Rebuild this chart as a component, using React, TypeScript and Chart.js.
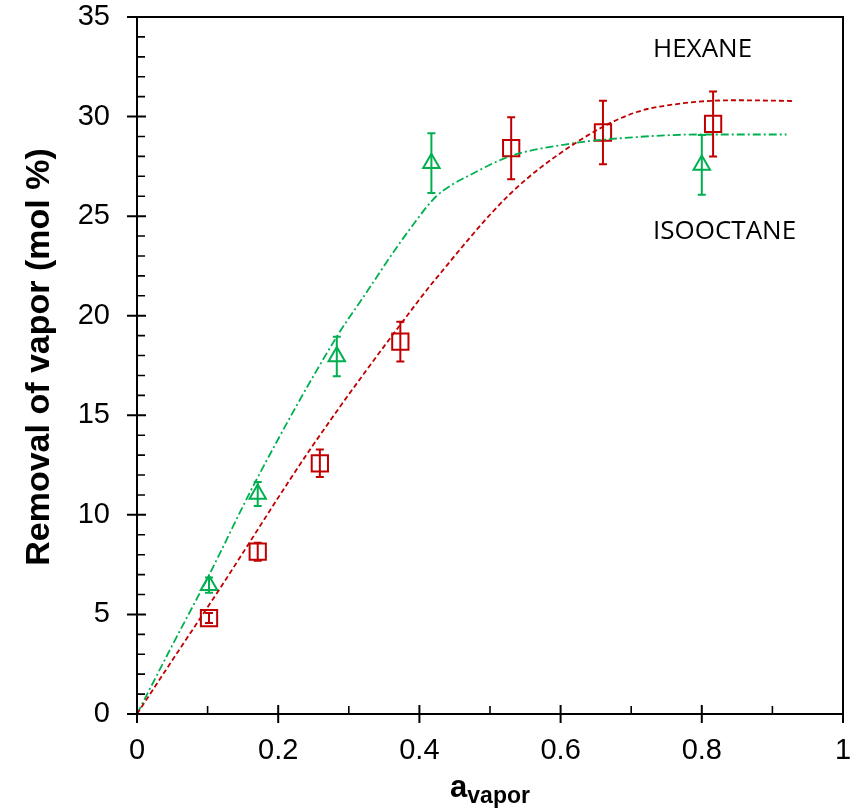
import React, { useEffect, useRef } from 'react';
import { Chart, registerables } from 'chart.js';

Chart.register(...registerables);

// Measured data (hexane = red squares, isooctane = green triangles)
const hexaneX = [0.102, 0.171, 0.259, 0.373, 0.53, 0.66, 0.816];
const hexaneY = [4.82, 8.15, 12.59, 18.7, 28.41, 29.2, 29.63];
const hexaneErr = [0.25, 0.45, 0.69, 1.0, 1.56, 1.6, 1.63];

const isoX = [0.102, 0.171, 0.283, 0.417, 0.8];
const isoY = [6.47, 11.05, 17.95, 27.66, 27.57];
const isoErr = [0.38, 0.6, 0.99, 1.5, 1.5];

// Model curves
const hexaneFitX = [0, 0.05, 0.113, 0.248, 0.396, 0.422, 0.528, 0.618, 0.703, 0.774, 0.85, 0.932];
const hexaneFitY = [0, 2.7, 6.06, 13.43, 20.63, 21.8, 26.1, 28.6, 30.17, 30.67, 30.82, 30.78];

const isoFitX = [0, 0.05, 0.101, 0.169, 0.283, 0.318, 0.372, 0.396, 0.41, 0.424, 0.445, 0.467, 0.528, 0.618, 0.703, 0.797, 0.92];
const isoFitY = [0, 3.45, 6.9, 11.75, 18.95, 20.8, 23.64, 24.8, 25.45, 26.0, 26.55, 26.98, 28.0, 28.66, 28.96, 29.1, 29.1];

const xMajorTicks = [0, 0.2, 0.4, 0.6, 0.8, 1];
const xMinorTicks = [0.1, 0.3, 0.5, 0.7, 0.9];
const yMajorTicks = [0, 5, 10, 15, 20, 25, 30, 35];
const yMinorTicks = [1, 2, 3, 4, 6, 7, 8, 9, 11, 12, 13, 14, 16, 17, 18, 19, 21, 22, 23, 24, 26, 27, 28, 29, 31, 32, 33, 34];

const RED = '#C00000';
const GREEN = '#00B050';
const ARIAL = '"Liberation Sans", Arial, sans-serif';
const LABEL_FONT = '"Open Sans", "Noto Sans", sans-serif';

const zip = (xs: number[], ys: number[]) => xs.map((x, i) => ({ x, y: ys[i] }));

const zeroPad = (s: any) => {
  s.paddingTop = 0;
  s.paddingBottom = 0;
  s.paddingLeft = 0;
  s.paddingRight = 0;
};

const decorPlugin = {
  id: 'decor',
  afterDatasetsDraw(chart: any) {
    const ctx = chart.ctx;
    const xs = chart.scales.x;
    const ys = chart.scales.y;
    const drawErr = (xv: number[], yv: number[], ev: number[], color: string) => {
      ctx.save();
      ctx.strokeStyle = color;
      ctx.lineWidth = 2;
      xv.forEach((x, i) => {
        const px = xs.getPixelForValue(x);
        const top = ys.getPixelForValue(yv[i] + ev[i]);
        const bot = ys.getPixelForValue(yv[i] - ev[i]);
        ctx.beginPath();
        ctx.moveTo(px, top);
        ctx.lineTo(px, bot);
        ctx.moveTo(px - 4, top);
        ctx.lineTo(px + 4, top);
        ctx.moveTo(px - 4, bot);
        ctx.lineTo(px + 4, bot);
        ctx.stroke();
      });
      ctx.restore();
    };
    drawErr(isoX, isoY, isoErr, GREEN);
    drawErr(hexaneX, hexaneY, hexaneErr, RED);
  },
  afterDraw(chart: any) {
    const ctx = chart.ctx;
    const { left, right, top, bottom } = chart.chartArea;
    const xs = chart.scales.x;
    const ys = chart.scales.y;
    ctx.save();
    ctx.strokeStyle = '#000';
    ctx.lineWidth = 2;
    ctx.strokeRect(left, top, right - left, bottom - top);
    ctx.beginPath();
    xMajorTicks.forEach((v) => {
      const p = xs.getPixelForValue(v);
      ctx.moveTo(p, bottom - 9);
      ctx.lineTo(p, bottom + 9);
    });
    yMajorTicks.forEach((v) => {
      const p = ys.getPixelForValue(v);
      ctx.moveTo(left - 10, p);
      ctx.lineTo(left + 9, p);
    });
    ctx.stroke();
    ctx.lineWidth = 1.6;
    ctx.beginPath();
    xMinorTicks.forEach((v) => {
      const p = xs.getPixelForValue(v);
      ctx.moveTo(p, bottom - 8);
      ctx.lineTo(p, bottom);
    });
    yMinorTicks.forEach((v) => {
      const p = ys.getPixelForValue(v);
      ctx.moveTo(left, p);
      ctx.lineTo(left + 8, p);
    });
    ctx.stroke();

    // Y axis title
    ctx.fillStyle = '#000';
    ctx.save();
    ctx.translate(49, 357);
    ctx.rotate(-Math.PI / 2);
    ctx.font = `bold 34px ${ARIAL}`;
    ctx.textAlign = 'center';
    ctx.textBaseline = 'alphabetic';
    ctx.fillText('Removal of vapor (mol %)', 0, 0);
    ctx.restore();

    // X axis title with subscript
    ctx.textAlign = 'left';
    ctx.textBaseline = 'alphabetic';
    ctx.font = `bold 31px ${ARIAL}`;
    const aW = ctx.measureText('a').width;
    ctx.font = `bold 23px ${ARIAL}`;
    const subW = ctx.measureText('vapor').width;
    const cx = (left + right) / 2;
    const startX = cx - (aW + subW) / 2;
    ctx.font = `bold 31px ${ARIAL}`;
    ctx.fillText('a', startX, 797);
    ctx.font = `bold 23px ${ARIAL}`;
    ctx.fillText('vapor', startX + aW, 803);

    // Curve labels
    ctx.font = `26px ${LABEL_FONT}`;
    ctx.fillText('HEXANE', 653, 57);
    ctx.fillText('ISOOCTANE', 653, 239);
    ctx.restore();
  },
};

export default function App() {
  const canvasRef = useRef<HTMLCanvasElement | null>(null);

  useEffect(() => {
    if (!canvasRef.current) return;
    const chart = new Chart(canvasRef.current, {
      type: 'scatter',
      data: {
        datasets: [
          {
            type: 'line',
            label: 'Hexane fit',
            data: zip(hexaneFitX, hexaneFitY),
            borderColor: RED,
            borderWidth: 1.8,
            borderDash: [5, 3],
            pointRadius: 0,
            fill: false,
            cubicInterpolationMode: 'monotone',
          },
          {
            type: 'line',
            label: 'Isooctane fit',
            data: zip(isoFitX, isoFitY),
            borderColor: GREEN,
            borderWidth: 1.8,
            borderDash: [8, 3, 2, 3],
            pointRadius: 0,
            fill: false,
            cubicInterpolationMode: 'monotone',
          },
          {
            label: 'Hexane',
            data: zip(hexaneX, hexaneY),
            pointStyle: 'rect',
            pointRadius: 11.5,
            borderColor: RED,
            backgroundColor: 'rgba(0,0,0,0)',
            pointBorderWidth: 2,
            showLine: false,
          },
          {
            label: 'Isooctane',
            data: zip(isoX, isoY),
            pointStyle: 'triangle',
            pointRadius: 9.5,
            borderColor: GREEN,
            backgroundColor: 'rgba(0,0,0,0)',
            pointBorderWidth: 2,
            showLine: false,
          },
        ],
      },
      options: {
        responsive: false,
        animation: false,
        devicePixelRatio: 1,
        layout: { padding: { top: 17, right: 15, left: 0, bottom: 0 } },
        plugins: {
          legend: { display: false },
          tooltip: { enabled: false },
        },
        scales: {
          x: {
            type: 'linear',
            min: 0,
            max: 1,
            afterFit: (s: any) => {
              s.height = 97;
              zeroPad(s);
            },
            grid: { display: false, drawTicks: false },
            border: { display: false },
            ticks: {
              stepSize: 0.2,
              padding: 20,
              color: '#000',
              maxRotation: 0,
              font: { family: ARIAL, size: 29 },
              callback: (v: any) => String(Math.round(Number(v) * 10) / 10),
            },
          },
          y: {
            type: 'linear',
            min: 0,
            max: 35,
            afterFit: (s: any) => {
              s.width = 137;
              zeroPad(s);
            },
            grid: { display: false, drawTicks: false },
            border: { display: false },
            ticks: {
              stepSize: 5,
              padding: 27,
              color: '#000',
              font: { family: ARIAL, size: 29 },
            },
          },
        },
      },
      plugins: [decorPlugin],
    } as any);
    return () => chart.destroy();
  }, []);

  return (
    <div style={{ position: 'absolute', left: 0, top: 0, width: 858, height: 811, background: '#fff' }}>
      <canvas ref={canvasRef} width={858} height={811} style={{ display: 'block' }} />
    </div>
  );
}
